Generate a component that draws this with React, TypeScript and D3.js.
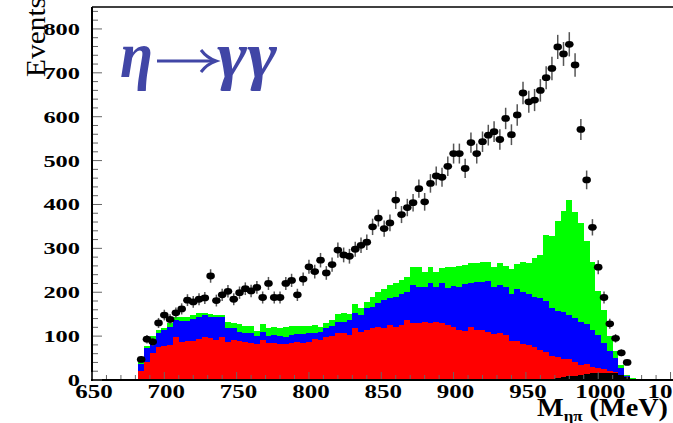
import { useEffect, useRef } from 'react';
import * as d3 from 'd3';

const W = 673;
const H = 423;

// binning: 4 MeV bins starting at 682 MeV
const BIN_LO = 682;
const BIN_W = 4;

// stacked MC components, events per bin
const BLACK = [
  0, 0, 0, 0, 0, 0, 0, 0, 0, 0,
  0, 0, 0, 0, 0, 0, 0, 0, 0, 0,
  0, 0, 0, 0, 0, 0, 0, 0, 0, 0,
  0, 0, 0, 0, 0, 0, 0, 0, 0, 0,
  0, 0, 0, 0, 0, 0, 0, 0, 0, 0,
  0, 0, 0, 0, 0, 0, 0, 0, 0, 0,
  0, 0, 0, 0, 0, 0, 0, 0, 1, 2,
  2, 3, 4, 6, 8, 10, 12, 14, 15, 16,
  17, 17, 16, 12, 7, 0,
];
const RED = [
  20, 42, 61, 76, 78, 80, 97, 87, 89, 90,
  93, 99, 95, 91, 99, 87, 91, 90, 87, 85,
  83, 91, 85, 85, 83, 82, 85, 87, 85, 87,
  93, 91, 97, 100, 106, 106, 102, 118, 110, 114,
  118, 121, 118, 125, 121, 125, 137, 131, 131, 133,
  129, 133, 129, 125, 121, 115, 112, 120, 115, 114,
  110, 104, 108, 102, 90, 88, 82, 80, 74, 66,
  62, 52, 48, 41, 39, 30, 23, 22, 14, 11,
  8, 4, 3, 0, 0, 0,
];
const BLUE = [
  17, 30, 23, 32, 36, 41, 40, 48, 46, 50,
  51, 49, 49, 52, 45, 31, 27, 20, 21, 21,
  17, 19, 15, 17, 17, 17, 17, 18, 20, 19,
  15, 19, 21, 23, 27, 27, 35, 34, 38, 49,
  49, 54, 64, 61, 69, 72, 64, 85, 81, 79,
  91, 79, 91, 84, 93, 97, 107, 102, 109, 110,
  116, 108, 108, 110, 107, 119, 119, 116, 115, 118,
  116, 110, 106, 108, 101, 101, 98, 91, 86, 75,
  60, 44, 30, 15, 1, 3,
];
const GREEN = [
  3, 5, 16, 6, 4, 10, 7, 8, 9, 8,
  8, 4, 6, 5, 4, 15, 13, 18, 15, 17,
  11, 18, 18, 19, 19, 22, 22, 19, 18, 17,
  17, 11, 11, 14, 17, 19, 13, 21, 15, 15,
  23, 26, 25, 30, 30, 31, 34, 41, 45, 35,
  38, 35, 35, 48, 44, 48, 43, 44, 43, 46,
  44, 46, 50, 48, 55, 57, 69, 71, 87, 99,
  150, 164, 205, 231, 262, 242, 224, 190, 153, 101,
  75, 35, 17, 7, 3, 2,
];

// measured data, events per bin
const DATA = [
  47, 93, 87, 130, 148, 138, 153, 162, 182, 178,
  184, 187, 237, 181, 194, 202, 184, 199, 208, 203,
  211, 188, 220, 188, 188, 220, 227, 194, 230, 258,
  247, 273, 244, 263, 296, 285, 282, 298, 307, 314,
  349, 369, 345, 358, 410, 377, 393, 404, 436, 406,
  448, 465, 462, 487, 516, 516, 482, 541, 516, 543,
  558, 566, 548, 596, 559, 604, 654, 634, 638, 660,
  689, 710, 759, 743, 765, 718, 571, 456, 348, 257,
  188, 128, 95, 62, 40,
];

const X_TICKS = [650, 700, 750, 800, 850, 900, 950, 1000, 1050];
const Y_TICKS = [0, 100, 200, 300, 400, 500, 600, 700, 800];

const COLORS: Record<string, string> = { black: '#000000', red: '#ff0000', blue: '#0000ff', green: '#00ff00' };
const TITLE_BLUE = '#4146a6';
const SERIF = '"Liberation Serif", "DejaVu Serif", serif';

export default function App() {
  const svgRef = useRef<SVGSVGElement>(null);

  useEffect(() => {
    const svg = d3.select(svgRef.current);
    svg.selectAll('*').remove();

    const x = d3.scaleLinear().domain([650, 1060]).range([92, 685]);
    const y = d3.scaleLinear().domain([0, 850]).range([380, 7]);

    // stacked histogram
    const rows = RED.map((_, i) => ({
      lo: BIN_LO + i * BIN_W,
      black: BLACK[i], red: RED[i], blue: BLUE[i], green: GREEN[i],
    }));
    const layers = d3.stack<any>().keys(['black', 'red', 'blue', 'green'])(rows);
    const area = d3.area<any>()
      .curve(d3.curveStepAfter)
      .x(d => x(d.lo)).y0(d => y(d.y0)).y1(d => y(d.y1));

    const g = svg.append('g');
    layers.forEach(layer => {
      const pts = layer.map(d => ({ lo: d.data.lo, y0: d[0], y1: d[1] }));
      const last = pts[pts.length - 1];
      pts.push({ ...last, lo: last.lo + BIN_W });
      g.append('path')
        .attr('d', area(pts))
        .attr('fill', COLORS[layer.key])
        .attr('shape-rendering', 'crispEdges');
    });

    // axes frame
    svg.append('line').attr('x1', 92).attr('x2', W).attr('y1', 7).attr('y2', 7)
      .attr('stroke', '#000').attr('stroke-width', 1.5);
    svg.append('line').attr('x1', 92).attr('x2', W).attr('y1', 380).attr('y2', 380)
      .attr('stroke', '#000').attr('stroke-width', 2);
    svg.append('line').attr('x1', 92).attr('x2', 92).attr('y1', 7).attr('y2', 381)
      .attr('stroke', '#000').attr('stroke-width', 2);

    // y ticks
    d3.range(0, 851, 20).forEach(v => {
      const major = v % 100 === 0;
      svg.append('line')
        .attr('x1', 93).attr('x2', 93 + (major ? 9 : 5))
        .attr('y1', y(v)).attr('y2', y(v))
        .attr('stroke', '#666').attr('stroke-width', 1);
    });
    Y_TICKS.forEach(v => {
      const s = String(v);
      svg.append('text')
        .attr('x', 80).attr('y', y(v) + 6)
        .attr('text-anchor', 'end')
        .attr('font-family', SERIF).attr('font-weight', 'bold').attr('font-size', 17)
        .attr('textLength', s.length * 12.2).attr('lengthAdjust', 'spacingAndGlyphs')
        .text(s);
    });

    // x ticks
    d3.range(650, 1061, 10).forEach(v => {
      const major = v % 50 === 0;
      svg.append('line')
        .attr('x1', x(v)).attr('x2', x(v))
        .attr('y1', 379).attr('y2', 379 - (major ? 7 : 4))
        .attr('stroke', '#666').attr('stroke-width', 1);
    });
    X_TICKS.forEach(v => {
      const s = String(v);
      const w = s.length * 12.5;
      svg.append('text')
        .attr('x', x(v) - w / 2 + 2).attr('y', 398)
        .attr('font-family', SERIF).attr('font-weight', 'bold').attr('font-size', 19)
        .attr('textLength', w).attr('lengthAdjust', 'spacingAndGlyphs')
        .text(s);
    });

    // data points with sqrt(N) error bars
    const pts = DATA.map((v, i) => ({ c: BIN_LO + BIN_W / 2 + i * BIN_W, v }));
    svg.append('g').selectAll('line').data(pts).join('line')
      .attr('x1', d => x(d.c)).attr('x2', d => x(d.c))
      .attr('y1', d => y(d.v - Math.sqrt(d.v))).attr('y2', d => y(d.v + Math.sqrt(d.v)))
      .attr('stroke', '#555').attr('stroke-width', 1.5);
    svg.append('g').selectAll('ellipse').data(pts).join('ellipse')
      .attr('cx', d => x(d.c)).attr('cy', d => y(d.v))
      .attr('rx', 4.3).attr('ry', 3.4).attr('fill', '#000');

    // axis titles
    svg.append('text')
      .attr('transform', 'translate(45,77) rotate(-90)')
      .attr('font-family', SERIF).attr('font-size', 27)
      .attr('textLength', 80).attr('lengthAdjust', 'spacingAndGlyphs')
      .text('Events');

    const xt = svg.append('text')
      .attr('x', 537).attr('y', 416)
      .attr('font-family', SERIF).attr('font-weight', 'bold').attr('font-size', 25)
      .attr('textLength', 131).attr('lengthAdjust', 'spacingAndGlyphs');
    xt.append('tspan').text('M');
    xt.append('tspan').attr('font-size', 15).attr('dy', 5).text('ηπ');
    xt.append('tspan').attr('dy', -5).text(' (MeV)');

    // title: eta -> gamma gamma
    svg.append('text')
      .attr('x', 120).attr('y', 77)
      .attr('font-family', SERIF).attr('font-style', 'italic').attr('font-weight', 'bold')
      .attr('font-size', 66)
      .attr('fill', TITLE_BLUE)
      .attr('textLength', 33).attr('lengthAdjust', 'spacingAndGlyphs')
      .text('η');
    svg.append('line')
      .attr('x1', 157).attr('x2', 214).attr('y1', 61).attr('y2', 61)
      .attr('stroke', TITLE_BLUE).attr('stroke-width', 3);
    svg.append('path')
      .attr('d', 'M201,50 Q207,58 216,61 Q207,64 201,72')
      .attr('fill', 'none').attr('stroke', TITLE_BLUE).attr('stroke-width', 3);
    svg.append('text')
      .attr('x', 217).attr('y', 77)
      .attr('font-family', SERIF).attr('font-style', 'italic').attr('font-weight', 'bold')
      .attr('font-size', 66)
      .attr('fill', TITLE_BLUE)
      .attr('textLength', 60).attr('lengthAdjust', 'spacingAndGlyphs')
      .text('γγ');
  }, []);

  return (
    <div style={{ position: 'fixed', left: 0, top: 0 }}>
      <svg ref={svgRef} width={W} height={H} style={{ display: 'block', background: '#fff' }} />
    </div>
  );
}
